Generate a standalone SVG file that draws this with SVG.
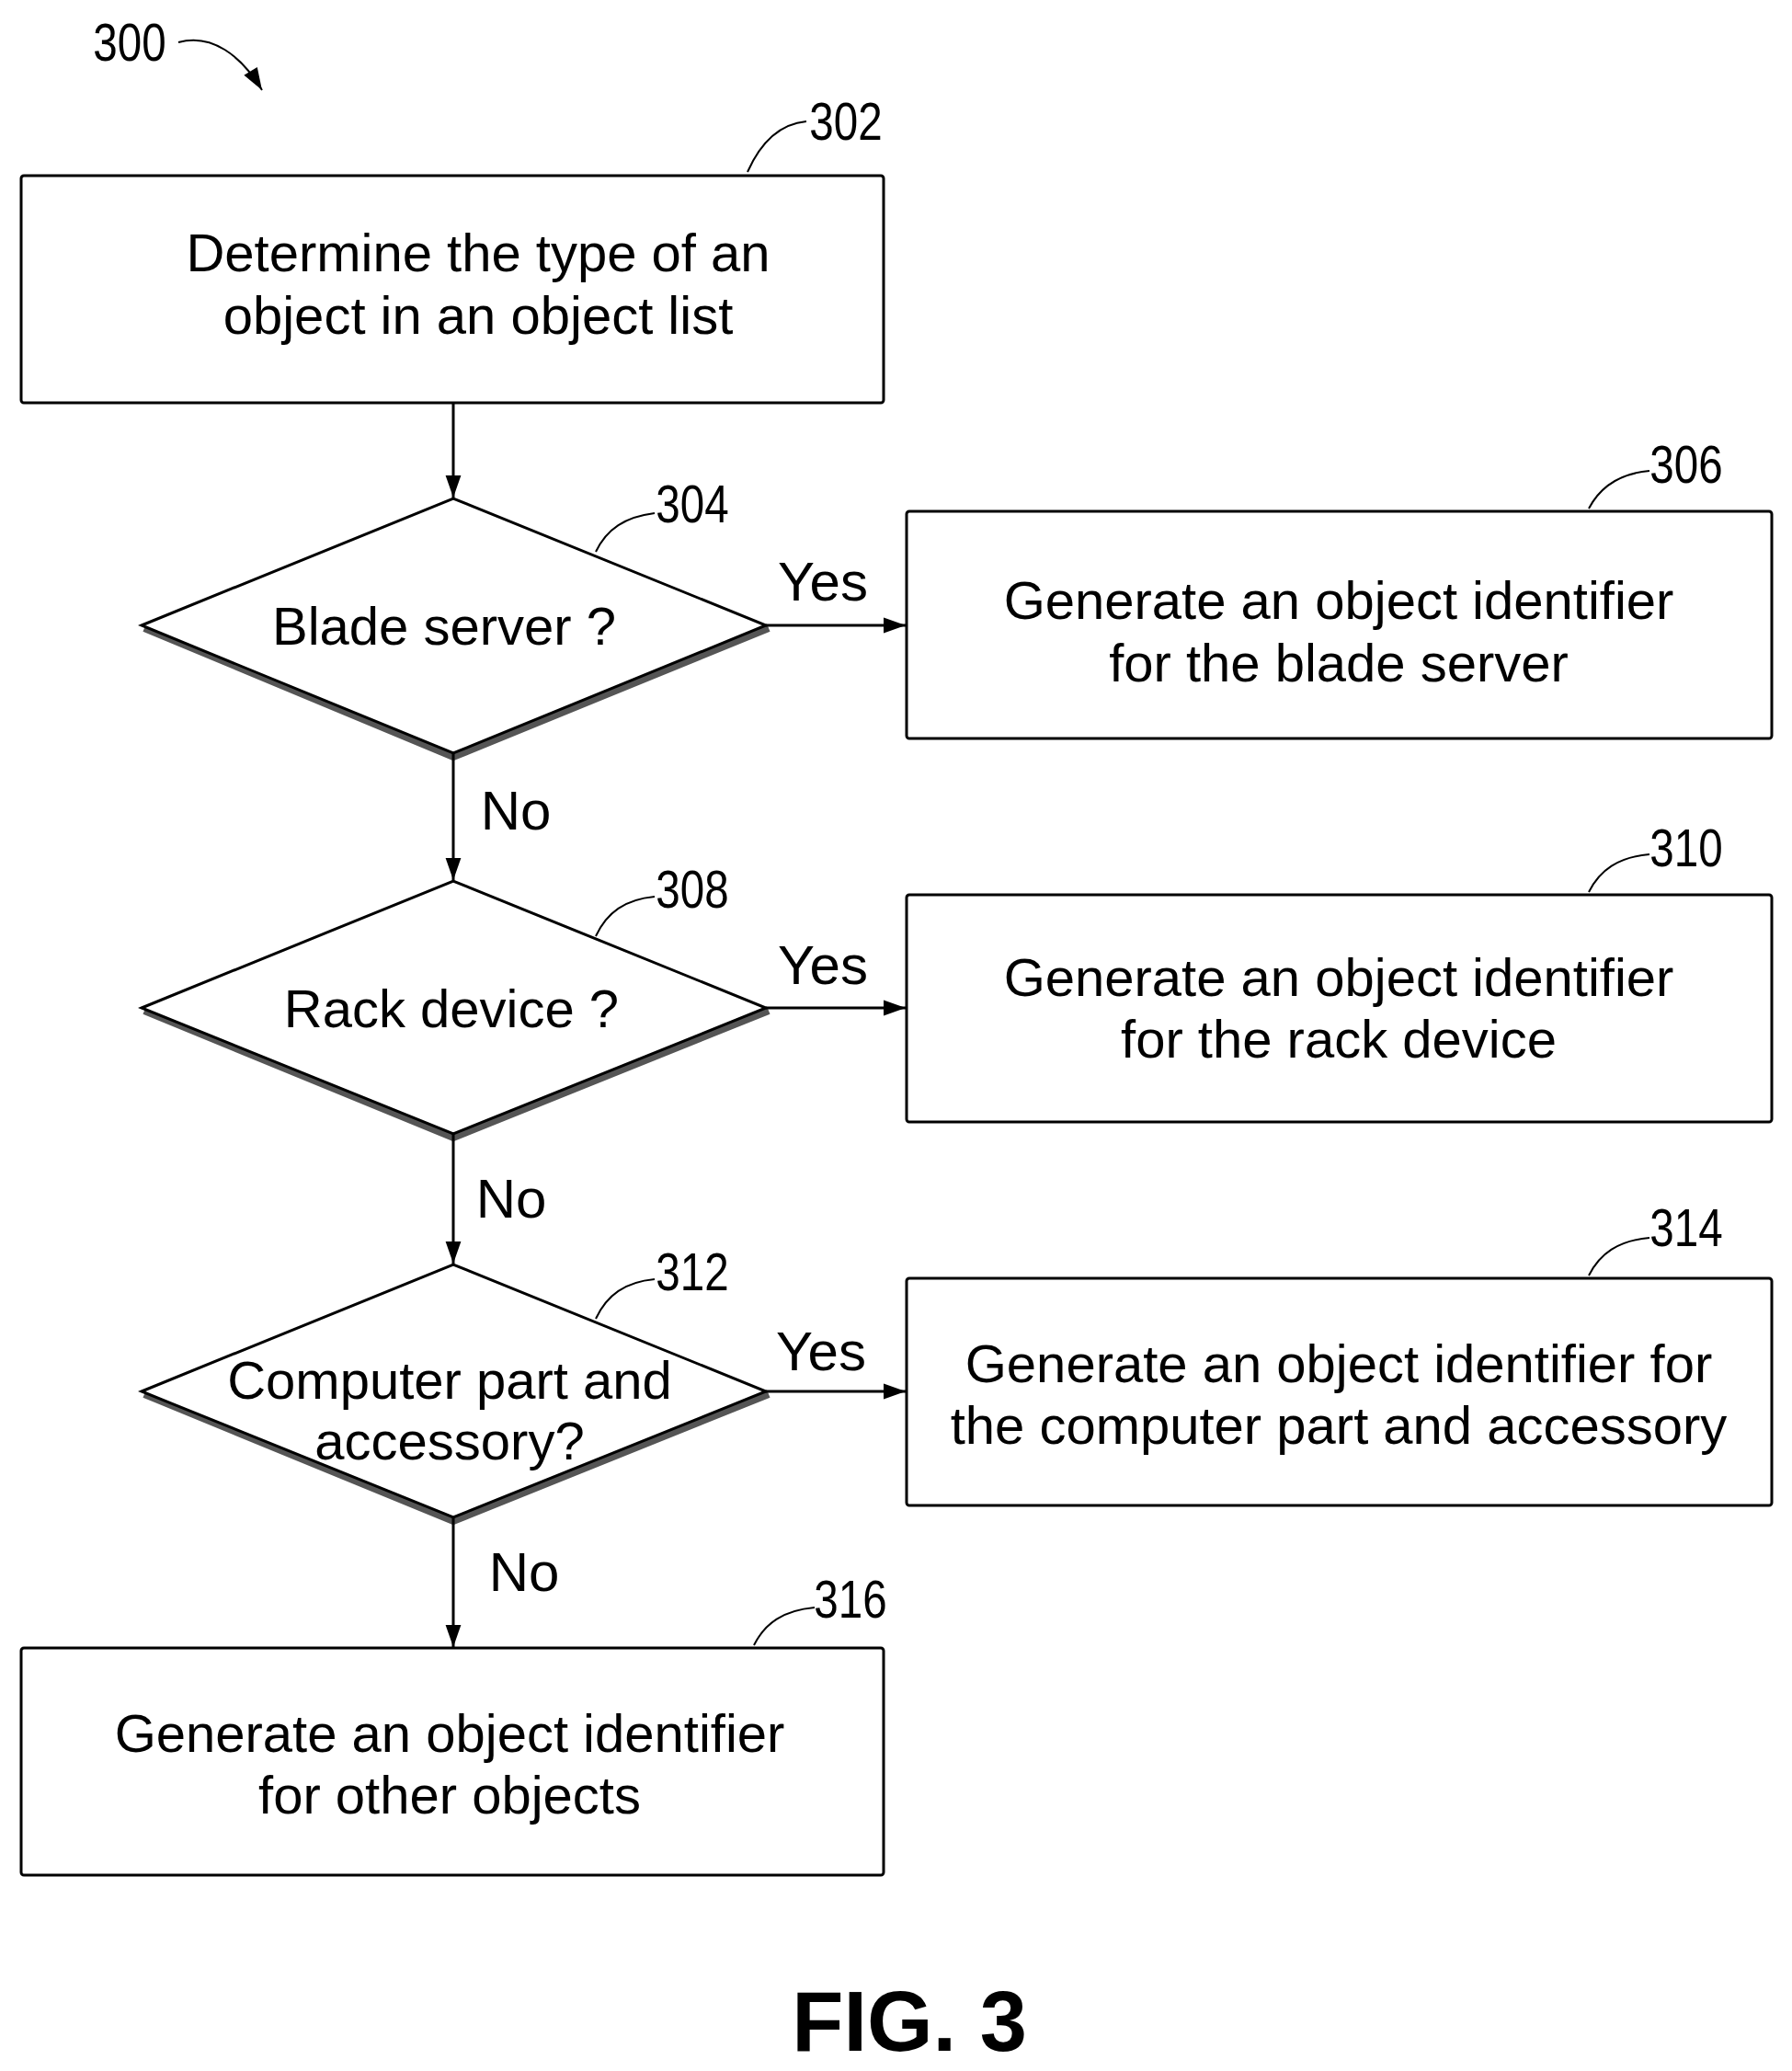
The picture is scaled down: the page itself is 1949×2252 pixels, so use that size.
<svg xmlns="http://www.w3.org/2000/svg" width="1949" height="2252" viewBox="0 0 1949 2252">
<style>
.b{fill:#fff;stroke:#000;stroke-width:3}
.t{font-family:"Liberation Sans",Arial,sans-serif;font-size:58px;text-anchor:middle;fill:#000}
.n{font-family:"Liberation Sans",Arial,sans-serif;font-size:60px;text-anchor:middle;fill:#000}
.r{font-family:"Liberation Sans",Arial,sans-serif;font-size:58px;text-anchor:middle;fill:#000}
.c{fill:none;stroke:#000;stroke-width:3}
.l{fill:none;stroke:#000;stroke-width:2}
.sh{fill:none;stroke:#555;stroke-width:8}
</style>
<defs><marker id="a" viewBox="0 0 10 10" refX="10" refY="5" markerWidth="9" markerHeight="8" orient="auto" markerUnits="strokeWidth"><path d="M0,1.5L10,5L0,8.5z" fill="#000"/></marker>
<marker id="a2" viewBox="0 0 10 10" refX="10" refY="5" markerWidth="14" markerHeight="12" orient="auto" markerUnits="strokeWidth"><path d="M0,1.5L10,5L0,8.5z" fill="#000"/></marker></defs>
<g id="label300"><text class="r" x="141" y="66" transform="translate(141 0) scale(0.82 1) translate(-141 0)">300</text><path class="l" d="M194,46 C230,36 262,60 285,98" marker-end="url(#a2)"/></g>
<g id="n302"><rect class="b" x="23" y="191" width="938" height="247" rx="3"/><text class="t" x="520" y="295">Determine the type of an</text><text class="t" x="520" y="363">object in an object list</text><path class="l" d="M813,187 C825,160 845,135 877,132"/><text class="r" x="920" y="152" transform="translate(920 0) scale(0.82 1) translate(-920 0)">302</text></g>
<g id="n304"><path class="sh" d="M157,683 L493,823 L836,683"/><polygon class="b" points="154,680 493,542 833,680 493,819"/><text class="t" x="483" y="701">Blade server ?</text><path class="l" d="M648,600 C660,575 680,562 712,558"/><text class="r" x="753" y="568" transform="translate(753 0) scale(0.82 1) translate(-753 0)">304</text></g>
<g id="n306"><rect class="b" x="986" y="556" width="941" height="247" rx="3"/><text class="t" x="1456" y="673">Generate an object identifier</text><text class="t" x="1456" y="741">for the blade server</text><path class="l" d="M1728,553 C1740,530 1760,515 1794,512"/><text class="r" x="1834" y="525" transform="translate(1834 0) scale(0.82 1) translate(-1834 0)">306</text></g>
<g id="n308"><path class="sh" d="M157,1099 L493,1237 L836,1099"/><polygon class="b" points="154,1096 493,958 833,1096 493,1233"/><text class="t" x="491" y="1117">Rack device ?</text><path class="l" d="M648,1018 C660,992 680,978 712,975"/><text class="r" x="753" y="987" transform="translate(753 0) scale(0.82 1) translate(-753 0)">308</text></g>
<g id="n310"><rect class="b" x="986" y="973" width="941" height="247" rx="3"/><text class="t" x="1456" y="1083">Generate an object identifier</text><text class="t" x="1456" y="1150">for the rack device</text><path class="l" d="M1728,970 C1740,946 1760,932 1794,929"/><text class="r" x="1834" y="942" transform="translate(1834 0) scale(0.82 1) translate(-1834 0)">310</text></g>
<g id="n312"><path class="sh" d="M157,1516 L493,1654 L836,1516"/><polygon class="b" points="154,1513 493,1375 833,1513 493,1650"/><text class="t" x="489" y="1521">Computer part and</text><text class="t" x="489" y="1587">accessory?</text><path class="l" d="M648,1434 C660,1408 680,1394 712,1391"/><text class="r" x="753" y="1403" transform="translate(753 0) scale(0.82 1) translate(-753 0)">312</text></g>
<g id="n314"><rect class="b" x="986" y="1390" width="941" height="247" rx="3"/><text class="t" x="1456" y="1503">Generate an object identifier for</text><text class="t" x="1456" y="1570">the computer part and accessory</text><path class="l" d="M1728,1387 C1740,1363 1760,1349 1794,1346"/><text class="r" x="1834" y="1355" transform="translate(1834 0) scale(0.82 1) translate(-1834 0)">314</text></g>
<g id="n316"><rect class="b" x="23" y="1792" width="938" height="247" rx="3"/><text class="t" x="489" y="1905">Generate an object identifier</text><text class="t" x="489" y="1972">for other objects</text><path class="l" d="M820,1789 C832,1765 852,1751 886,1748"/><text class="r" x="925" y="1759" transform="translate(925 0) scale(0.82 1) translate(-925 0)">316</text></g>
<g id="connectors">
<line class="c" x1="493" y1="438" x2="493" y2="541" marker-end="url(#a)"/>
<line class="c" x1="833" y1="680" x2="985" y2="680" marker-end="url(#a)"/>
<line class="c" x1="493" y1="819" x2="493" y2="957" marker-end="url(#a)"/>
<line class="c" x1="833" y1="1096" x2="985" y2="1096" marker-end="url(#a)"/>
<line class="c" x1="493" y1="1233" x2="493" y2="1374" marker-end="url(#a)"/>
<line class="c" x1="833" y1="1513" x2="985" y2="1513" marker-end="url(#a)"/>
<line class="c" x1="493" y1="1650" x2="493" y2="1791" marker-end="url(#a)"/>
<text class="n" x="895" y="653">Yes</text>
<text class="n" x="895" y="1070">Yes</text>
<text class="n" x="893" y="1490">Yes</text>
<text class="n" x="561" y="902">No</text>
<text class="n" x="556" y="1324">No</text>
<text class="n" x="570" y="1730">No</text>
</g>
<text x="989" y="2230" font-family="Liberation Sans,Arial,sans-serif" font-weight="bold" font-size="92" text-anchor="middle">FIG. 3</text>
</svg>
